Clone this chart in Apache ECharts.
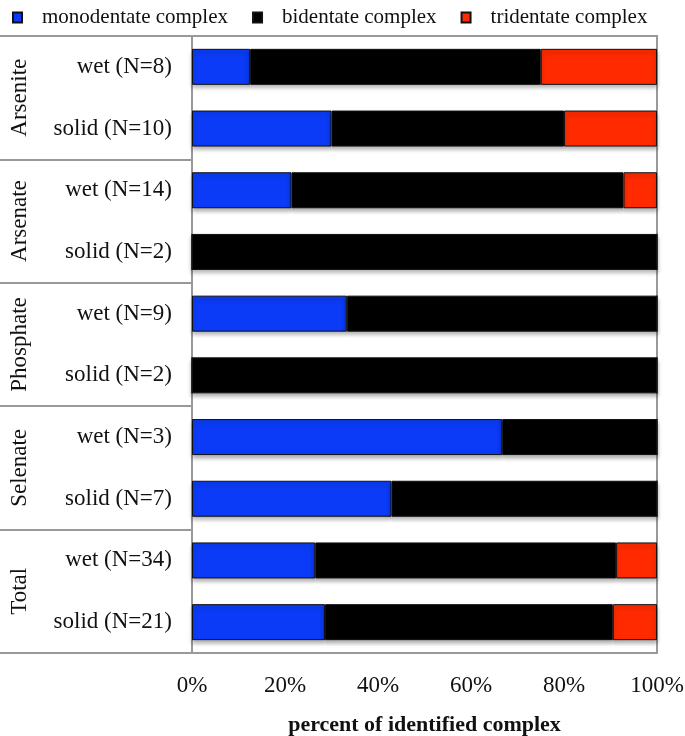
<!DOCTYPE html>
<html>
<head>
<meta charset="utf-8">
<script src="https://cdn.jsdelivr.net/npm/echarts@6/dist/echarts.min.js"></script>
<style>
html,body{margin:0;padding:0;background:#fff;}
#chart{width:685px;height:736px;}
</style>
</head>
<body>
<div id="chart"></div>
<script>
const categories = ['wet (N=8)', 'solid (N=10)', 'wet (N=14)', 'solid (N=2)', 'wet (N=9)', 'solid (N=2)', 'wet (N=3)', 'solid (N=7)', 'wet (N=34)', 'solid (N=21)'];
const groups = ['Arsenite', 'Arsenate', 'Phosphate', 'Selenate', 'Total'];
const monodentate = [12.5, 30, 21.4, 0, 33.3, 0, 66.7, 42.9, 26.5, 28.6];
const bidentate = [62.5, 50, 71.4, 100, 66.7, 100, 33.3, 57.1, 64.7, 61.9];
const tridentate = [25, 20, 7.2, 0, 0, 0, 0, 0, 8.8, 9.5];
const xTicks = [0, 20, 40, 60, 80, 100];

const FONT = 'Liberation Serif';
const chart = echarts.init(document.getElementById('chart'));

function barSeries(name, data, color) {
  return {
    name: name,
    type: 'bar',
    stack: 'total',
    data: data,
    barWidth: 36,
    itemStyle: {
      color: color,
      borderColor: '#111',
      borderWidth: 1,
      shadowColor: 'rgba(0,0,0,0.3)',
      shadowBlur: 4,
      shadowOffsetY: 3
    },
    emphasis: { disabled: true }
  };
}

chart.setOption({
  animation: false,
  textStyle: { fontFamily: FONT },
  legend: {
    left: 7,
    top: 2,
    itemWidth: 9,
    itemHeight: 10,
    itemGap: 24,
    icon: 'rect',
    data: ['monodentate complex', 'bidentate complex', 'tridentate complex'],
    textStyle: { fontFamily: FONT, fontSize: 21, color: '#111', padding: [0, 0, 0, 15] }
  },
  grid: {
    left: 192, right: 28, top: 36, bottom: 83,
    outerBoundsMode: 'none',
    containLabel: false,
    show: true, borderColor: '#999', borderWidth: 2
  },
  xAxis: {
    type: 'value',
    min: xTicks[0],
    max: xTicks[xTicks.length - 1],
    interval: xTicks[1] - xTicks[0],
    axisLine: { show: false },
    axisTick: { show: false },
    splitLine: { show: false },
    axisLabel: { formatter: '{value}%', fontFamily: FONT, fontSize: 23, color: '#111', margin: 21 },
    name: 'percent of identified complex',
    nameLocation: 'middle',
    nameGap: 61,
    nameTextStyle: { fontFamily: FONT, fontSize: 22, fontWeight: 'bold', color: '#111' }
  },
  yAxis: [
    {
      type: 'category',
      data: categories,
      inverse: true,
      axisLine: { show: true, lineStyle: { color: '#999', width: 2 } },
      axisTick: { show: false },
      axisLabel: { interval: 0, fontFamily: FONT, fontSize: 23, color: '#111', margin: 20, padding: [4, 0, 0, 0] }
    },
    {
      type: 'category',
      data: groups,
      inverse: true,
      position: 'left',
      axisLine: { show: false },
      axisTick: { show: true, interval: 0, length: 192, lineStyle: { color: '#999', width: 2 } },
      axisLabel: { interval: 0, rotate: 90, fontFamily: FONT, fontSize: 23, color: '#111', margin: 161 }
    }
  ],
  series: [
    barSeries('monodentate complex', monodentate, '#0b3bf6'),
    barSeries('bidentate complex', bidentate, '#000000'),
    barSeries('tridentate complex', tridentate, '#ff2a00')
  ]
});
</script>
</body>
</html>
